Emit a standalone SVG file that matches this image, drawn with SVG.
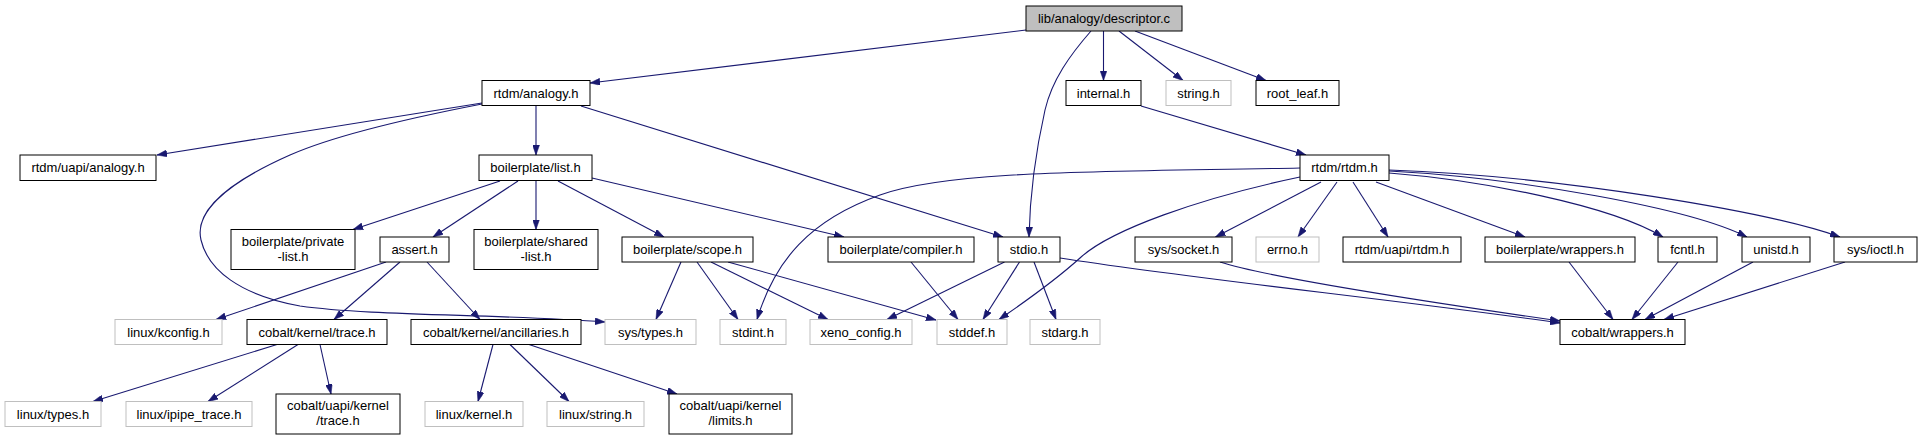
<svg xmlns="http://www.w3.org/2000/svg" width="1923" height="440" viewBox="0 0 1923 440">
<style>
.n rect{fill:#fff;stroke:#000;stroke-width:1}
.n.g rect{stroke:#bfbfbf}
.n.r rect{fill:#bfbfbf}
.n text{font-family:"Liberation Sans",Arial,sans-serif;font-size:13px;fill:#000;text-anchor:middle}
#edges path{fill:none;stroke:#191970;stroke-width:1.1;marker-end:url(#ah)}
</style>
<defs>
<marker id="ah" viewBox="0 0 10 7" refX="10" refY="3.5" markerWidth="10" markerHeight="7" markerUnits="userSpaceOnUse" orient="auto">
<path d="M0,0 L10,3.5 L0,7 Z" fill="#191970" stroke="#191970" stroke-width="0.5"/>
</marker>
</defs>
<rect width="1923" height="440" fill="#fff"/>
<g id="edges">
<path d="M1026,30 L590,83"/>
<path d="M1091,31 C1070,55 1052,80 1045,110 C1036,150 1030,190 1029,237"/>
<path d="M1103.5,31 L1103.5,80.5"/>
<path d="M1119,31 L1183,80.5"/>
<path d="M1135,31 L1266,80.5"/>
<path d="M482,103 L157,155"/>
<path d="M536,106 L536,155"/>
<path d="M482,104 C420,116 340,133 290,155 C220,186 195,215 201,240 C208,270 240,295 300,306 C370,316 500,314 605,322"/>
<path d="M581,106 L1003,237"/>
<path d="M1141,106 L1306,155"/>
<path d="M500,181 L353,229.5"/>
<path d="M518,181 L433,237"/>
<path d="M536,181 L536,229.5"/>
<path d="M558,181 L664,237"/>
<path d="M592,178 L844,237"/>
<path d="M1300,168 C1100,172 950,170 880,195 C810,220 775,260 757,319.5"/>
<path d="M1300,177 C1200,198 1110,230 1080,258 C1050,285 1020,305 999,319.5"/>
<path d="M1321,182 L1215.5,237"/>
<path d="M1337,182 L1298,237"/>
<path d="M1353,182 L1388,237"/>
<path d="M1376,182 L1525,237"/>
<path d="M1389,173 C1480,180 1610,205 1663,237"/>
<path d="M1389,171 C1520,178 1690,208 1747,237"/>
<path d="M1389,170 C1560,176 1770,212 1840,237"/>
<path d="M386,262 L216,319.5"/>
<path d="M400,262 L334,319.5"/>
<path d="M427,262 L480,319.5"/>
<path d="M681,262 L656,319.5"/>
<path d="M697,262 L738,319.5"/>
<path d="M711,262 L828,319.5"/>
<path d="M728,262 L936,320"/>
<path d="M911,262 L958,319.5"/>
<path d="M1004.5,262 L887,319.5"/>
<path d="M1019.5,262 L983,319.5"/>
<path d="M1034,262 L1056,319.5"/>
<path d="M1060,258 C1200,280 1400,300 1560,323"/>
<path d="M1220,262 C1260,275 1400,298 1560,321"/>
<path d="M1569,262 L1613,319.5"/>
<path d="M1678,262 L1632,319.5"/>
<path d="M1753,262 L1645,319.5"/>
<path d="M1845,262 L1664,319.5"/>
<path d="M277,344.5 L93,401.5"/>
<path d="M298,344.5 L208,401.5"/>
<path d="M320,344.5 L331,394"/>
<path d="M493,344.5 L478,401.5"/>
<path d="M510,344.5 L569,401.5"/>
<path d="M529,344.5 L677,394"/>
</g>
<g id="n_desc" class="n r"><rect x="1026" y="6" width="156" height="25"/><text x="1104" y="23">lib/analogy/descriptor.c</text></g>
<g id="n_analogy" class="n"><rect x="482" y="80.5" width="108" height="25"/><text x="536" y="97.5">rtdm/analogy.h</text></g>
<g id="n_internal" class="n"><rect x="1066" y="80.5" width="75" height="25"/><text x="1103.5" y="97.5">internal.h</text></g>
<g id="n_string" class="n g"><rect x="1166" y="80.5" width="65" height="25"/><text x="1198.5" y="97.5">string.h</text></g>
<g id="n_rootleaf" class="n"><rect x="1256" y="80.5" width="83" height="25"/><text x="1297.5" y="97.5">root_leaf.h</text></g>
<g id="n_uapi_analogy" class="n"><rect x="20" y="155" width="136" height="25.5"/><text x="88" y="172">rtdm/uapi/analogy.h</text></g>
<g id="n_list" class="n"><rect x="479" y="155" width="113" height="25.5"/><text x="535.5" y="172">boilerplate/list.h</text></g>
<g id="n_rtdm" class="n"><rect x="1300" y="155" width="89" height="25.5"/><text x="1344.5" y="172">rtdm/rtdm.h</text></g>
<g id="n_privlist" class="n"><rect x="231" y="229.5" width="124" height="40"/><text x="293" y="245.5">boilerplate/private</text><text x="293" y="260.5">-list.h</text></g>
<g id="n_assert" class="n"><rect x="380" y="237" width="69" height="25"/><text x="414.5" y="254">assert.h</text></g>
<g id="n_sharedlist" class="n"><rect x="474" y="229.5" width="124" height="40"/><text x="536" y="245.5">boilerplate/shared</text><text x="536" y="260.5">-list.h</text></g>
<g id="n_scope" class="n"><rect x="622" y="237" width="131" height="25"/><text x="687.5" y="254">boilerplate/scope.h</text></g>
<g id="n_compiler" class="n"><rect x="828" y="237" width="146" height="25"/><text x="901" y="254">boilerplate/compiler.h</text></g>
<g id="n_stdio" class="n"><rect x="998" y="237" width="62" height="25"/><text x="1029" y="254">stdio.h</text></g>
<g id="n_socket" class="n"><rect x="1135" y="237" width="97" height="25"/><text x="1183.5" y="254">sys/socket.h</text></g>
<g id="n_errno" class="n g"><rect x="1256" y="237" width="63" height="25"/><text x="1287.5" y="254">errno.h</text></g>
<g id="n_uapi_rtdm" class="n"><rect x="1343" y="237" width="118" height="25"/><text x="1402" y="254">rtdm/uapi/rtdm.h</text></g>
<g id="n_bwrappers" class="n"><rect x="1485" y="237" width="150" height="25"/><text x="1560" y="254">boilerplate/wrappers.h</text></g>
<g id="n_fcntl" class="n"><rect x="1658" y="237" width="59" height="25"/><text x="1687.5" y="254">fcntl.h</text></g>
<g id="n_unistd" class="n"><rect x="1742" y="237" width="68" height="25"/><text x="1776" y="254">unistd.h</text></g>
<g id="n_ioctl" class="n"><rect x="1834" y="237" width="83" height="25"/><text x="1875.5" y="254">sys/ioctl.h</text></g>
<g id="n_kconfig" class="n g"><rect x="115" y="319.5" width="107" height="25"/><text x="168.5" y="336.5">linux/kconfig.h</text></g>
<g id="n_trace" class="n"><rect x="247" y="319.5" width="140" height="25"/><text x="317" y="336.5">cobalt/kernel/trace.h</text></g>
<g id="n_ancill" class="n"><rect x="411" y="319.5" width="170" height="25"/><text x="496" y="336.5">cobalt/kernel/ancillaries.h</text></g>
<g id="n_systypes" class="n g"><rect x="605" y="319.5" width="91" height="25"/><text x="650.5" y="336.5">sys/types.h</text></g>
<g id="n_stdint" class="n g"><rect x="720" y="319.5" width="66" height="25"/><text x="753" y="336.5">stdint.h</text></g>
<g id="n_xeno" class="n g"><rect x="810" y="319.5" width="102" height="25"/><text x="861" y="336.5">xeno_config.h</text></g>
<g id="n_stddef" class="n g"><rect x="937" y="319.5" width="70" height="25"/><text x="972" y="336.5">stddef.h</text></g>
<g id="n_stdarg" class="n g"><rect x="1030" y="319.5" width="70" height="25"/><text x="1065" y="336.5">stdarg.h</text></g>
<g id="n_cwrappers" class="n"><rect x="1560" y="319.5" width="125" height="25"/><text x="1622.5" y="336.5">cobalt/wrappers.h</text></g>
<g id="n_ltypes" class="n g"><rect x="5" y="401.5" width="96" height="25"/><text x="53" y="418.5">linux/types.h</text></g>
<g id="n_ipipe" class="n g"><rect x="126" y="401.5" width="126" height="25"/><text x="189" y="418.5">linux/ipipe_trace.h</text></g>
<g id="n_uapitrace" class="n"><rect x="276" y="394" width="124" height="40"/><text x="338" y="410">cobalt/uapi/kernel</text><text x="338" y="425">/trace.h</text></g>
<g id="n_lkernel" class="n g"><rect x="425" y="401.5" width="98" height="25"/><text x="474" y="418.5">linux/kernel.h</text></g>
<g id="n_lstring" class="n g"><rect x="547" y="401.5" width="97" height="25"/><text x="595.5" y="418.5">linux/string.h</text></g>
<g id="n_limits" class="n"><rect x="669" y="394" width="123" height="40"/><text x="730.5" y="410">cobalt/uapi/kernel</text><text x="730.5" y="425">/limits.h</text></g>
</svg>
